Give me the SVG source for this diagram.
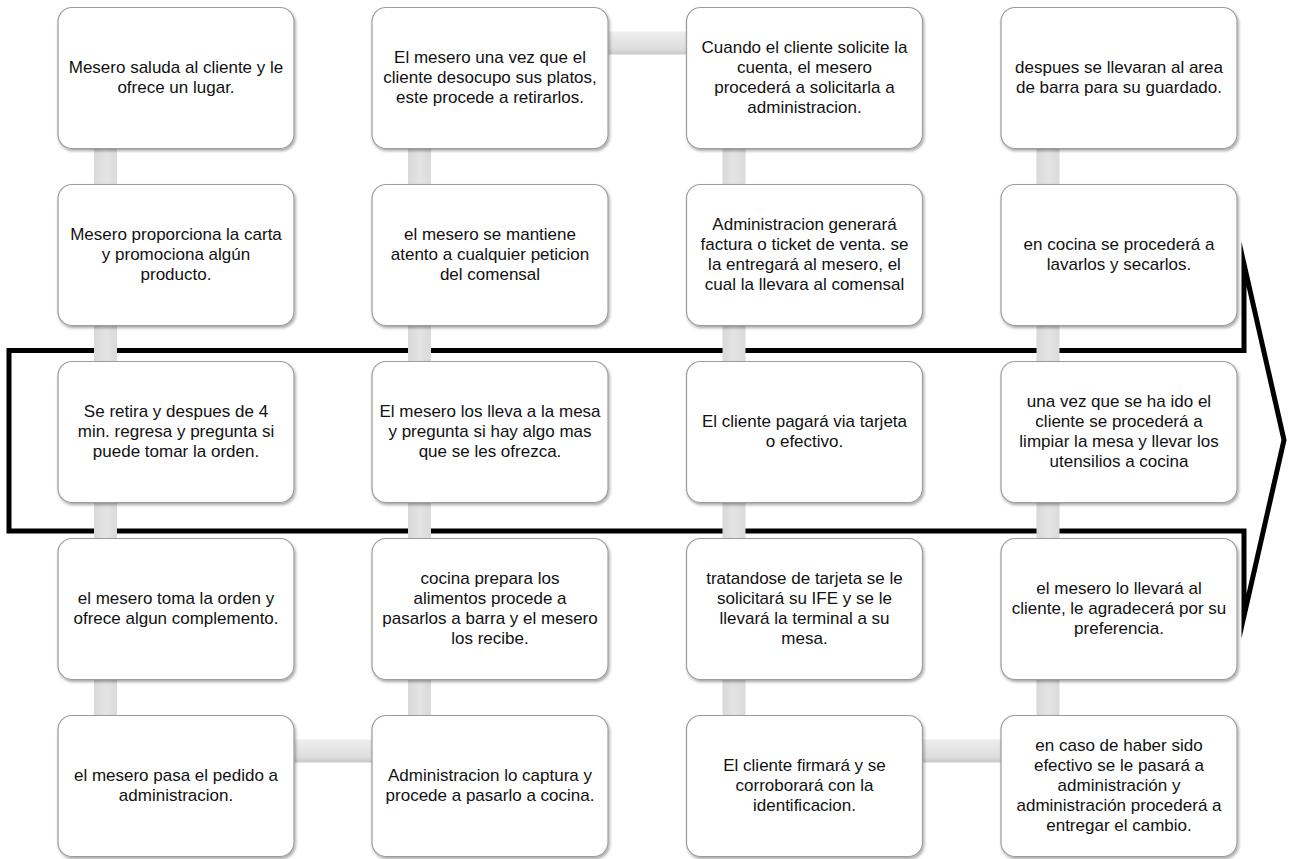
<svg xmlns="http://www.w3.org/2000/svg" width="1289" height="859" viewBox="0 0 1289 859">
<style>
.box{fill:#ffffff;stroke:#9c9c9c;stroke-width:1.2;filter:url(#sh)}
.vc{fill:url(#gv)}
.hc{fill:url(#gh)}
.t{font-family:"Liberation Sans",Arial,sans-serif;font-size:17px;fill:#111111;text-anchor:middle}
.arrow{fill:none;stroke:#000;stroke-width:5;stroke-miterlimit:12}
</style>
<defs>
<filter id="sh" x="-10%" y="-10%" width="125%" height="130%">
<feDropShadow dx="1.2" dy="2" stdDeviation="1.4" flood-color="#000" flood-opacity="0.35"/>
</filter>
<linearGradient id="gv" x1="0" y1="0" x2="1" y2="0">
<stop offset="0" stop-color="#d8d8d8"/>
<stop offset="0.5" stop-color="#e4e4e4"/>
<stop offset="1" stop-color="#dadada"/>
</linearGradient>
<linearGradient id="gh" x1="0" y1="0" x2="0" y2="1">
<stop offset="0" stop-color="#eeeeee"/>
<stop offset="0.75" stop-color="#dedede"/>
<stop offset="1" stop-color="#c8c8c8"/>
</linearGradient>
</defs>
<rect width="1289" height="859" fill="#ffffff"/>
<path class="arrow" d="M9,350.5 H1244 V264 L1284,440 L1244,616 V531 H9 Z"/>
<g id="connectors">
<rect class="vc" x="94" y="140" width="23" height="52"/>
<rect class="vc" x="94" y="317" width="23" height="52"/>
<rect class="vc" x="94" y="494" width="23" height="52"/>
<rect class="vc" x="94" y="671" width="23" height="52"/>
<rect class="hc" x="285" y="739.5" width="95" height="23"/>
<rect class="vc" x="408" y="140" width="23" height="52"/>
<rect class="vc" x="408" y="317" width="23" height="52"/>
<rect class="vc" x="408" y="494" width="23" height="52"/>
<rect class="vc" x="408" y="671" width="23" height="52"/>
<rect class="hc" x="600" y="31.5" width="95" height="23"/>
<rect class="vc" x="722.5" y="140" width="23" height="52"/>
<rect class="vc" x="722.5" y="317" width="23" height="52"/>
<rect class="vc" x="722.5" y="494" width="23" height="52"/>
<rect class="vc" x="722.5" y="671" width="23" height="52"/>
<rect class="hc" x="914" y="739.5" width="95" height="23"/>
<rect class="vc" x="1036.5" y="140" width="23" height="52"/>
<rect class="vc" x="1036.5" y="317" width="23" height="52"/>
<rect class="vc" x="1036.5" y="494" width="23" height="52"/>
<rect class="vc" x="1036.5" y="671" width="23" height="52"/>
</g>
<g id="n1"><rect class="box" x="58" y="7.5" width="236" height="141" rx="14"/>
<text class="t"><tspan x="176" y="73">Mesero saluda al cliente y le</tspan><tspan x="176" y="93">ofrece un lugar.</tspan></text></g>
<g id="n2"><rect class="box" x="58" y="184.5" width="236" height="141" rx="14"/>
<text class="t"><tspan x="176" y="240">Mesero proporciona la carta</tspan><tspan x="176" y="260">y promociona algún</tspan><tspan x="176" y="280">producto.</tspan></text></g>
<g id="n3"><rect class="box" x="58" y="361.5" width="236" height="141" rx="14"/>
<text class="t"><tspan x="176" y="417">Se retira y despues de 4</tspan><tspan x="176" y="437">min. regresa y pregunta si</tspan><tspan x="176" y="457">puede tomar la orden.</tspan></text></g>
<g id="n4"><rect class="box" x="58" y="538.5" width="236" height="141" rx="14"/>
<text class="t"><tspan x="176" y="604">el mesero toma la orden y</tspan><tspan x="176" y="624">ofrece algun complemento.</tspan></text></g>
<g id="n5"><rect class="box" x="58" y="715.5" width="236" height="141" rx="14"/>
<text class="t"><tspan x="176" y="781">el mesero pasa el pedido a</tspan><tspan x="176" y="801">administracion.</tspan></text></g>
<g id="n6"><rect class="box" x="372" y="715.5" width="236" height="141" rx="14"/>
<text class="t"><tspan x="490" y="781">Administracion lo captura y</tspan><tspan x="490" y="801">procede a pasarlo a cocina.</tspan></text></g>
<g id="n7"><rect class="box" x="372" y="538.5" width="236" height="141" rx="14"/>
<text class="t"><tspan x="490" y="584">cocina prepara los</tspan><tspan x="490" y="604">alimentos procede a</tspan><tspan x="490" y="624">pasarlos a barra y el mesero</tspan><tspan x="490" y="644">los recibe.</tspan></text></g>
<g id="n8"><rect class="box" x="372" y="361.5" width="236" height="141" rx="14"/>
<text class="t"><tspan x="490" y="417">El mesero los lleva a la mesa</tspan><tspan x="490" y="437">y pregunta si hay algo mas</tspan><tspan x="490" y="457">que se les ofrezca.</tspan></text></g>
<g id="n9"><rect class="box" x="372" y="184.5" width="236" height="141" rx="14"/>
<text class="t"><tspan x="490" y="240">el mesero se mantiene</tspan><tspan x="490" y="260">atento a cualquier peticion</tspan><tspan x="490" y="280">del comensal</tspan></text></g>
<g id="n10"><rect class="box" x="372" y="7.5" width="236" height="141" rx="14"/>
<text class="t"><tspan x="490" y="63">El mesero una vez que el</tspan><tspan x="490" y="83">cliente desocupo sus platos,</tspan><tspan x="490" y="103">este procede a retirarlos.</tspan></text></g>
<g id="n11"><rect class="box" x="686.5" y="7.5" width="236" height="141" rx="14"/>
<text class="t"><tspan x="804.5" y="53">Cuando el cliente solicite la</tspan><tspan x="804.5" y="73">cuenta, el mesero</tspan><tspan x="804.5" y="93">procederá a solicitarla a</tspan><tspan x="804.5" y="113">administracion.</tspan></text></g>
<g id="n12"><rect class="box" x="686.5" y="184.5" width="236" height="141" rx="14"/>
<text class="t"><tspan x="804.5" y="230">Administracion generará</tspan><tspan x="804.5" y="250">factura o ticket de venta. se</tspan><tspan x="804.5" y="270">la entregará al mesero, el</tspan><tspan x="804.5" y="290">cual la llevara al comensal</tspan></text></g>
<g id="n13"><rect class="box" x="686.5" y="361.5" width="236" height="141" rx="14"/>
<text class="t"><tspan x="804.5" y="427">El cliente pagará via tarjeta</tspan><tspan x="804.5" y="447">o efectivo.</tspan></text></g>
<g id="n14"><rect class="box" x="686.5" y="538.5" width="236" height="141" rx="14"/>
<text class="t"><tspan x="804.5" y="584">tratandose de tarjeta se le</tspan><tspan x="804.5" y="604">solicitará su IFE y se le</tspan><tspan x="804.5" y="624">llevará la terminal a su</tspan><tspan x="804.5" y="644">mesa.</tspan></text></g>
<g id="n15"><rect class="box" x="686.5" y="715.5" width="236" height="141" rx="14"/>
<text class="t"><tspan x="804.5" y="771">El cliente firmará y se</tspan><tspan x="804.5" y="791">corroborará con la</tspan><tspan x="804.5" y="811">identificacion.</tspan></text></g>
<g id="n16"><rect class="box" x="1001" y="715.5" width="236" height="141" rx="14"/>
<text class="t"><tspan x="1119" y="751">en caso de haber sido</tspan><tspan x="1119" y="771">efectivo se le pasará a</tspan><tspan x="1119" y="791">administración y</tspan><tspan x="1119" y="811">administración procederá a</tspan><tspan x="1119" y="831">entregar el cambio.</tspan></text></g>
<g id="n17"><rect class="box" x="1001" y="538.5" width="236" height="141" rx="14"/>
<text class="t"><tspan x="1119" y="594">el mesero lo llevará al</tspan><tspan x="1119" y="614">cliente, le agradecerá por su</tspan><tspan x="1119" y="634">preferencia.</tspan></text></g>
<g id="n18"><rect class="box" x="1001" y="361.5" width="236" height="141" rx="14"/>
<text class="t"><tspan x="1119" y="407">una vez que se ha ido el</tspan><tspan x="1119" y="427">cliente se procederá a</tspan><tspan x="1119" y="447">limpiar la mesa y llevar los</tspan><tspan x="1119" y="467">utensilios a cocina</tspan></text></g>
<g id="n19"><rect class="box" x="1001" y="184.5" width="236" height="141" rx="14"/>
<text class="t"><tspan x="1119" y="250">en cocina se procederá a</tspan><tspan x="1119" y="270">lavarlos y secarlos.</tspan></text></g>
<g id="n20"><rect class="box" x="1001" y="7.5" width="236" height="141" rx="14"/>
<text class="t"><tspan x="1119" y="73">despues se llevaran al area</tspan><tspan x="1119" y="93">de barra para su guardado.</tspan></text></g>
</svg>
